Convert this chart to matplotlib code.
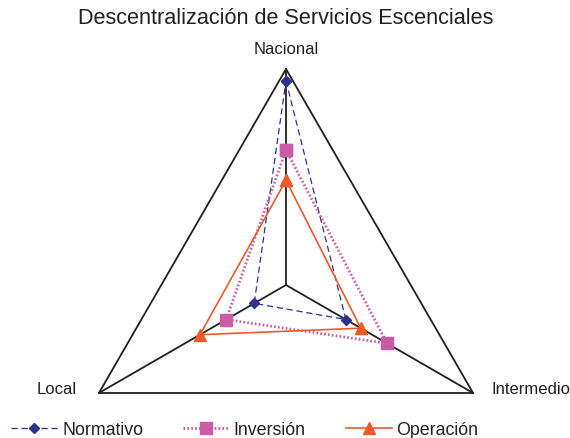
import numpy as np
import matplotlib
matplotlib.use("Agg")
import matplotlib.pyplot as plt

plt.rcParams['font.family'] = ['Liberation Sans', 'DejaVu Sans']

# ------------------------------------------------------------
# data
# ------------------------------------------------------------
axes_labels = ["Nacional", "Intermedio", "Local"]
normativo = [0.945, 0.32, 0.17]
inversion = [0.625, 0.54, 0.32]
operacion = [0.485, 0.40, 0.46]

title = "Descentralización de Servicios Escenciales"

# ------------------------------------------------------------
# figure
# ------------------------------------------------------------
W, H = 570, 439
fig = plt.figure(figsize=(W / 100, H / 100), dpi=100)

cx, cy, rad = 286, 439 - 286, 216
ax = fig.add_axes([(cx - rad) / W, (cy - rad) / H, 2 * rad / W, 2 * rad / H],
                  projection="polar")
ax.set_theta_offset(np.pi / 2)
ax.set_theta_direction(-1)
ax.set_ylim(0, 1)
ax.axis("off")

n = len(axes_labels)
theta = np.linspace(0, 2 * np.pi, n, endpoint=False)
theta_c = np.append(theta, theta[0])

# frame and spokes
ax.plot(theta_c, np.ones(n + 1), color="#231f20", lw=1.3, clip_on=False)
for t in theta:
    ax.plot([t, t], [0, 1], color="#231f20", lw=1.3, clip_on=False)


def closed(v):
    return np.append(v, v[0])


ax.plot(theta_c, closed(normativo), color="#2e3192", lw=0.9, ls=(0, (5, 3)),
        marker="D", ms=5.5, markerfacecolor="#2e3192", markeredgecolor="#2e3192",
        label="Normativo", clip_on=False)
ax.plot(theta_c, closed(inversion), color="#cc5aa5", lw=2.0, ls=(0, (0.6, 0.8)),
        marker="s", ms=8, markerfacecolor="#cc5aa5", markeredgecolor="#cc5aa5",
        label="Inversión", clip_on=False)
ax.plot(theta_c, closed(operacion), color="#f05a28", lw=1.2, ls="-",
        marker="^", ms=8, markerfacecolor="#f05a28", markeredgecolor="#f05a28",
        label="Operación", clip_on=False)

# axis labels
fig.text(286 / W, 1 - 50 / H, axes_labels[0], ha="center", va="center", fontsize=12, color="#231f20")
fig.text(531 / W, 1 - 390 / H, axes_labels[1], ha="center", va="center", fontsize=12, color="#231f20")
fig.text(57 / W, 1 - 390 / H, axes_labels[2], ha="center", va="center", fontsize=12, color="#231f20")

fig.text(286 / W, 1 - 19 / H, title, ha="center", va="center", fontsize=15.6, color="#231f20")

leg = fig.legend(loc="center left", bbox_to_anchor=(6 / W, 1 - 431 / H), ncol=3,
                 frameon=False, fontsize=12.8, handlelength=2.6, columnspacing=2.25,
                 handletextpad=0.25, borderaxespad=0, borderpad=0.3)
for txt in leg.get_texts():
    txt.set_color("#231f20")

fig.savefig("out.png", dpi=100)
